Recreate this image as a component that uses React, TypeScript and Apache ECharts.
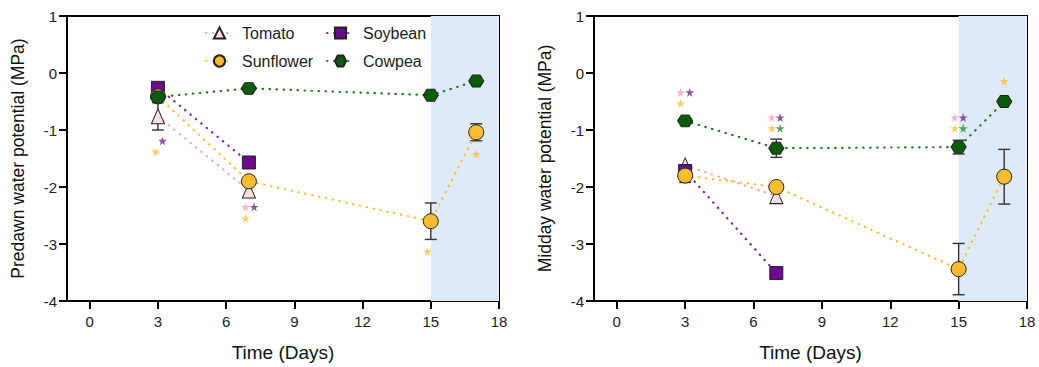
import React, { useEffect, useRef } from "react";
import * as echarts from "echarts";

// ---- data ----
const days = [3, 7, 15, 17];
const shortDays = [3, 7];
const xTicks = [0, 3, 6, 9, 12, 15, 18];
const shadeRange = [15, 18];

// Predawn (panel A)
const tomatoPD = [-0.76, -2.06];
const tomatoPDErr = [0.24, 0];
const soybeanPD = [-0.26, -1.57];
const soybeanPDErr = [0, 0];
const sunflowerPD = [-0.41, -1.9, -2.6, -1.04];
const sunflowerPDErr = [0.06, 0, 0.32, 0.15];
const cowpeaPD = [-0.42, -0.27, -0.39, -0.14];
const cowpeaPDErr = [0, 0, 0, 0];

// Midday (panel B)
const tomatoMD = [-1.62, -2.16];
const tomatoMDErr = [0, 0];
const soybeanMD = [-1.72, -3.51];
const soybeanMDErr = [0, 0];
const sunflowerMD = [-1.8, -2.0, -3.44, -1.82];
const sunflowerMDErr = [0.12, 0, 0.45, 0.48];
const cowpeaMD = [-0.84, -1.32, -1.3, -0.5];
const cowpeaMDErr = [0, 0.16, 0.12, 0];

// significance asterisks [x, y]
const starsPDPink = [[6.85, -2.35]];
const starsPDPurple = [[3.2, -1.19], [7.23, -2.35]];
const starsPDYellow = [[2.9, -1.38], [6.85, -2.55], [14.86, -3.13], [17.0, -1.42]];
const starsPDGreen: number[][] = [];
const starsMDPink = [[2.8, -0.34], [6.8, -0.78], [14.83, -0.78]];
const starsMDPurple = [[3.2, -0.34], [7.17, -0.78], [15.2, -0.78]];
const starsMDYellow = [[2.8, -0.53], [6.8, -0.97], [14.83, -0.97], [17.0, -0.14]];
const starsMDGreen = [[7.17, -0.97], [15.2, -0.97]];

const FONT = "Liberation Sans, Arial, sans-serif";
const STAR = "path://M50,0 L61,35 L98,35 L68,57 L79,91 L50,70 L21,91 L32,57 L2,35 L39,35 Z";
const HEX = "path://M0,43 L25,0 L75,0 L100,43 L75,87 L25,87 Z";

const species = [
  { name: "Tomato", symbol: "triangle", size: [13, 15], fill: "#fde0e0", line: "#f5a3b1" },
  { name: "Soybean", symbol: "rect", size: 13, fill: "#6a0a8e", line: "#8a1faa" },
  { name: "Sunflower", symbol: "circle", size: 15, fill: "#fbbc30", line: "#fbbf3a" },
  { name: "Cowpea", symbol: HEX, size: [15, 12], fill: "#0a5c0a", line: "#1f7f1f" },
];

const zip = (xs: number[], ys: number[]) => xs.map((x, i) => [x, ys[i]]);
const zip3 = (xs: number[], ys: number[], es: number[]) =>
  xs.map((x, i) => [x, ys[i], es[i]]).filter((d) => d[2] > 0);

export default function App() {
  const ref = useRef<HTMLDivElement>(null);
  useEffect(() => {
    if (!ref.current) return;
    const chart = echarts.init(ref.current, undefined, { renderer: "svg" });

    const panels = [
      {
        vals: [
          [shortDays, tomatoPD, tomatoPDErr],
          [shortDays, soybeanPD, soybeanPDErr],
          [days, sunflowerPD, sunflowerPDErr],
          [days, cowpeaPD, cowpeaPDErr],
        ],
        stars: [
          [starsPDPink, "#f6a5b3"],
          [starsPDPurple, "#6b2c85"],
          [starsPDYellow, "#fbbf35"],
          [starsPDGreen, "#2f8a3a"],
        ],
      },
      {
        vals: [
          [shortDays, tomatoMD, tomatoMDErr],
          [shortDays, soybeanMD, soybeanMDErr],
          [days, sunflowerMD, sunflowerMDErr],
          [days, cowpeaMD, cowpeaMDErr],
        ],
        stars: [
          [starsMDPink, "#f6a5b3"],
          [starsMDPurple, "#6b2c85"],
          [starsMDYellow, "#fbbf35"],
          [starsMDGreen, "#2f8a3a"],
        ],
      },
    ];

    const series: any[] = [];
    panels.forEach((p, pi) => {
      // shading
      series.push({
        type: "line",
        xAxisIndex: pi,
        yAxisIndex: pi,
        data: [],
        silent: true,
        z: 0,
        markArea: {
          silent: true,
          itemStyle: { color: "#deeaf8" },
          data: [[{ xAxis: shadeRange[0] }, { xAxis: shadeRange[1] }]],
        },
      });
      // error bars
      const errData: any[] = [];
      p.vals.forEach((v: any) => errData.push(...zip3(v[0], v[1], v[2])));
      series.push({
        type: "custom",
        xAxisIndex: pi,
        yAxisIndex: pi,
        z: 1,
        silent: true,
        data: errData,
        renderItem: (params: any, api: any) => {
          const x = api.value(0);
          const y = api.value(1);
          const e = api.value(2);
          const t = api.coord([x, y + e]);
          const b = api.coord([x, y - e]);
          const st = { stroke: "#333", lineWidth: 1.4 };
          return {
            type: "group",
            children: [
              { type: "line", shape: { x1: t[0], y1: t[1], x2: b[0], y2: b[1] }, style: st },
              { type: "line", shape: { x1: t[0] - 6, y1: t[1], x2: t[0] + 6, y2: t[1] }, style: st },
              { type: "line", shape: { x1: b[0] - 6, y1: b[1], x2: b[0] + 6, y2: b[1] }, style: st },
            ],
          };
        },
      });
      species.forEach((s, si) => {
        const v: any = p.vals[si];
        series.push({
          type: "line",
          name: s.name,
          xAxisIndex: pi,
          yAxisIndex: pi,
          data: zip(v[0], v[1]),
          symbol: s.symbol,
          symbolSize: s.size,
          showSymbol: true,
          z: 2 + si,
          lineStyle: { color: s.line, width: 2.2, type: [0.5, 6.5], cap: "round" },
          itemStyle: { color: s.fill, borderColor: "#222", borderWidth: 1 },
        });
      });
      p.stars.forEach((st: any) => {
        series.push({
          type: "scatter",
          xAxisIndex: pi,
          yAxisIndex: pi,
          data: st[0],
          symbol: STAR,
          symbolSize: 9,
          z: 10,
          silent: true,
          itemStyle: { color: st[1] },
        });
      });
    });

    const mkX = (gi: number) => ({
      type: "value",
      gridIndex: gi,
      min: -1,
      max: 18,
      name: "Time (Days)",
      nameLocation: "middle",
      nameGap: 42,
      nameTextStyle: { fontFamily: FONT, fontSize: 19, color: "#111" },
      axisLine: { show: true, onZero: false, lineStyle: { color: "#000", width: 2 } },
      axisTick: { show: true, length: 8, lineStyle: { width: 2, color: "#000" }, customValues: xTicks },
      axisLabel: { fontFamily: FONT, fontSize: 15, color: "#222", margin: 13, customValues: xTicks },
      splitLine: { show: false },
    });
    const mkY = (gi: number, name: string) => ({
      type: "value",
      gridIndex: gi,
      min: -4,
      max: 1,
      interval: 1,
      name,
      nameLocation: "middle",
      nameGap: 40,
      nameTextStyle: { fontFamily: FONT, fontSize: 17.5, color: "#111" },
      axisLine: { show: true, onZero: false, lineStyle: { color: "#000", width: 2 } },
      axisTick: { show: true, length: 8, lineStyle: { width: 2, color: "#000" } },
      axisLabel: { fontFamily: FONT, fontSize: 15, color: "#222", margin: 10 },
      splitLine: { show: false },
    });

    const legendBase = {
      orient: "horizontal",
      itemWidth: 27,
      itemHeight: 14,
      textStyle: { fontFamily: FONT, fontSize: 16, color: "#222", padding: [0, 0, 0, 4] },
    };

    chart.setOption({
      animation: false,
      grid: [
        { left: 67, top: 16, width: 432, height: 288, show: true, borderColor: "#000", borderWidth: 2, backgroundColor: "transparent" },
        { left: 594, top: 16, width: 433, height: 288, show: true, borderColor: "#000", borderWidth: 2, backgroundColor: "transparent" },
      ],
      xAxis: [mkX(0), mkX(1)],
      yAxis: [mkY(0, "Predawn water potential (MPa)"), mkY(1, "Midday water potential (MPa)")],
      legend: [
        { ...legendBase, left: 200, top: 20, data: ["Tomato"] },
        { ...legendBase, left: 321, top: 20, data: ["Soybean"] },
        { ...legendBase, left: 200, top: 48, data: ["Sunflower"] },
        { ...legendBase, left: 321, top: 48, data: ["Cowpea"] },
      ],
      graphic: [
        { type: "text", left: 474, top: 27, style: { text: "A", fontFamily: FONT, fontSize: 18, fill: "#111" } },
        { type: "text", left: 1001, top: 27, style: { text: "B", fontFamily: FONT, fontSize: 18, fill: "#111" } },
      ],
      series,
    });
    return () => chart.dispose();
  }, []);
  return (
    <div
      ref={ref}
      style={{ position: "fixed", left: 0, top: 0, width: 1039, height: 367, background: "#fff" }}
    />
  );
}
